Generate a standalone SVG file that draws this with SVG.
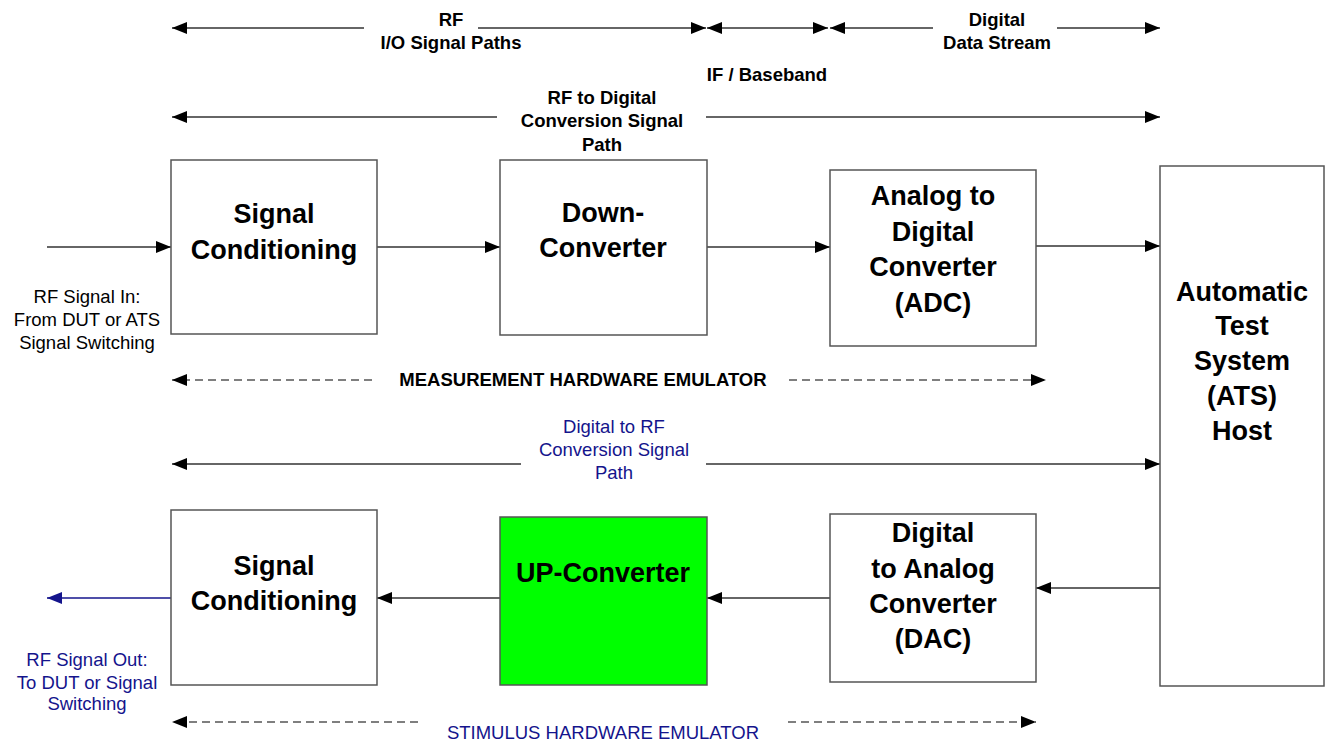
<svg xmlns="http://www.w3.org/2000/svg" width="1332" height="745" viewBox="0 0 1332 745">
<style>
.box{fill:#fff;stroke:#555;stroke-width:1.5}
.bt{font-family:"Liberation Sans",Arial,sans-serif;font-weight:bold;font-size:27px;fill:#000;text-anchor:middle}
.lb{font-family:"Liberation Sans",Arial,sans-serif;font-weight:bold;font-size:18.5px;fill:#000;text-anchor:middle}
.lr{font-family:"Liberation Sans",Arial,sans-serif;font-size:18.5px;fill:#000;text-anchor:middle}
.nv{fill:#14148c}
.ln{stroke:#333;stroke-width:1.3;fill:none}
.nvl{stroke:#14148c;stroke-width:1.3;fill:none}
.ds{stroke:#555;stroke-width:1.3;fill:none;stroke-dasharray:8 5}
</style>
<defs>
<marker id="ah" markerUnits="userSpaceOnUse" markerWidth="16" markerHeight="12" refX="15" refY="6" orient="auto-start-reverse">
<path d="M0,0 L15,6 L0,12 Z" fill="#000"/>
</marker>
<marker id="ahn" markerUnits="userSpaceOnUse" markerWidth="16" markerHeight="12" refX="15" refY="6" orient="auto-start-reverse">
<path d="M0,0 L15,6 L0,12 Z" fill="#14148c"/>
</marker>
</defs>
<g id="connectors">
<line class="ln" x1="364" y1="28" x2="172" y2="28" marker-end="url(#ah)"/>
<line class="ln" x1="478" y1="28" x2="706" y2="28" marker-end="url(#ah)"/>
<line class="ln" x1="707" y1="28" x2="828" y2="28" marker-start="url(#ah)" marker-end="url(#ah)"/>
<line class="ln" x1="933" y1="28" x2="830" y2="28" marker-end="url(#ah)"/>
<line class="ln" x1="1057" y1="28" x2="1160" y2="28" marker-end="url(#ah)"/>
<line class="ln" x1="497" y1="117" x2="172" y2="117" marker-end="url(#ah)"/>
<line class="ln" x1="706" y1="117" x2="1160" y2="117" marker-end="url(#ah)"/>
<line class="ln" x1="47" y1="247" x2="171" y2="247" marker-end="url(#ah)"/>
<line class="ln" x1="377" y1="247" x2="500" y2="247" marker-end="url(#ah)"/>
<line class="ln" x1="707" y1="247" x2="830" y2="247" marker-end="url(#ah)"/>
<line class="ln" x1="1036" y1="246" x2="1160" y2="246" marker-end="url(#ah)"/>
<line class="ds" x1="372" y1="380" x2="172" y2="380" marker-end="url(#ah)"/>
<line class="ds" x1="789" y1="380" x2="1046" y2="380" marker-end="url(#ah)"/>
<line class="ln" x1="521" y1="464" x2="172" y2="464" marker-end="url(#ah)"/>
<line class="ln" x1="706" y1="464" x2="1160" y2="464" marker-end="url(#ah)"/>
<line class="ln" x1="1160" y1="588" x2="1036" y2="588" marker-end="url(#ah)"/>
<line class="ln" x1="830" y1="598" x2="707" y2="598" marker-end="url(#ah)"/>
<line class="ln" x1="500" y1="598" x2="377" y2="598" marker-end="url(#ah)"/>
<line class="nvl" x1="171" y1="598" x2="47" y2="598" marker-end="url(#ahn)"/>
<line class="ds" x1="418" y1="722" x2="172" y2="722" marker-end="url(#ah)"/>
<line class="ds" x1="788" y1="722" x2="1036" y2="722" marker-end="url(#ah)"/>
</g>
<g id="labels">
<text class="lb" x="451" y="26">RF</text>
<text class="lb" x="451" y="49">I/O Signal Paths</text>
<text class="lb" x="997" y="26">Digital</text>
<text class="lb" x="997" y="49">Data Stream</text>
<text class="lb" x="767" y="81">IF / Baseband</text>
<text class="lb" x="602" y="104">RF to Digital</text>
<text class="lb" x="602" y="127">Conversion Signal</text>
<text class="lb" x="602" y="151">Path</text>
<text class="lr" x="87" y="303">RF Signal In:</text>
<text class="lr" x="87" y="326">From DUT or ATS</text>
<text class="lr" x="87" y="349">Signal Switching</text>
<text class="lb" x="583" y="386">MEASUREMENT HARDWARE EMULATOR</text>
<text class="lr nv" x="614" y="433">Digital to RF</text>
<text class="lr nv" x="614" y="456">Conversion Signal</text>
<text class="lr nv" x="614" y="479">Path</text>
<text class="lr nv" x="87" y="666">RF Signal Out:</text>
<text class="lr nv" x="87" y="689">To DUT or Signal</text>
<text class="lr nv" x="87" y="710">Switching</text>
<text class="lr nv" x="603" y="739">STIMULUS HARDWARE EMULATOR</text>
</g>
<g id="sc-top">
<rect class="box" x="171" y="160" width="206" height="174"/>
<text class="bt" x="274" y="223">Signal</text>
<text class="bt" x="274" y="259">Conditioning</text>
</g>
<g id="downconverter">
<rect class="box" x="500" y="160" width="207" height="175"/>
<text class="bt" x="603" y="222">Down-</text>
<text class="bt" x="603" y="257">Converter</text>
</g>
<g id="adc">
<rect class="box" x="830" y="170" width="206" height="176"/>
<text class="bt" x="933" y="205">Analog to</text>
<text class="bt" x="933" y="241">Digital</text>
<text class="bt" x="933" y="276">Converter</text>
<text class="bt" x="933" y="312">(ADC)</text>
</g>
<g id="ats">
<rect class="box" x="1160" y="166" width="164" height="520"/>
<text class="bt" x="1242" y="301">Automatic</text>
<text class="bt" x="1242" y="335">Test</text>
<text class="bt" x="1242" y="370">System</text>
<text class="bt" x="1242" y="405">(ATS)</text>
<text class="bt" x="1242" y="440">Host</text>
</g>
<g id="sc-bottom">
<rect class="box" x="171" y="510" width="206" height="175"/>
<text class="bt" x="274" y="575">Signal</text>
<text class="bt" x="274" y="610">Conditioning</text>
</g>
<g id="upconverter">
<rect class="box" x="500" y="517" width="207" height="168" style="fill:#00ff00"/>
<text class="bt" x="603" y="582">UP-Converter</text>
</g>
<g id="dac">
<rect class="box" x="830" y="514" width="206" height="168"/>
<text class="bt" x="933" y="542">Digital</text>
<text class="bt" x="933" y="578">to Analog</text>
<text class="bt" x="933" y="613">Converter</text>
<text class="bt" x="933" y="648">(DAC)</text>
</g>
</svg>
